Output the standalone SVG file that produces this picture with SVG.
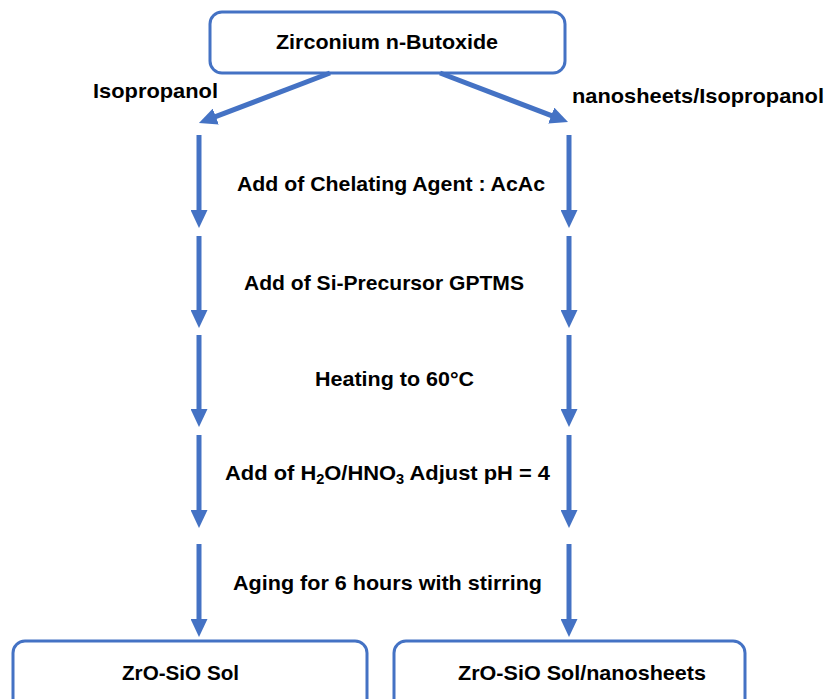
<svg xmlns="http://www.w3.org/2000/svg" width="829" height="699" viewBox="0 0 829 699">
<defs>
<style>
.box{fill:#fff;stroke:#4472C4;stroke-width:3}
.lbl{font-family:"Liberation Sans",Arial,sans-serif;font-weight:bold;font-size:21px;fill:#000}
.arr{stroke:#4472C4;stroke-width:5;fill:none;marker-end:url(#ah)}
</style>
<marker id="ah" markerUnits="userSpaceOnUse" markerWidth="18" markerHeight="17" refX="8" refY="8.5" orient="auto" viewBox="0 0 18 17">
<path d="M0,0 L18,8.5 L0,17 z" fill="#4472C4"/>
</marker>
</defs>
<rect width="829" height="699" fill="#fff"/>
<g id="node-zirconium">
<rect class="box" x="210" y="12" width="355" height="61" rx="12"/>
<text class="lbl" x="276" y="49" textLength="222" lengthAdjust="spacingAndGlyphs">Zirconium n-Butoxide</text>
</g>
<g id="node-sol">
<rect class="box" x="13" y="641" width="354" height="80" rx="12"/>
<text class="lbl" x="122" y="680" textLength="117" lengthAdjust="spacingAndGlyphs">ZrO-SiO Sol</text>
</g>
<g id="node-sol-nanosheets">
<rect class="box" x="394" y="641" width="351" height="80" rx="12"/>
<text class="lbl" x="458" y="680" textLength="248" lengthAdjust="spacingAndGlyphs">ZrO-SiO Sol/nanosheets</text>
</g>
<g id="connectors">
<line class="arr" x1="330" y1="73" x2="208.3" y2="119.4"/>
<line class="arr" x1="440" y1="73" x2="558.7" y2="118.4"/>
<line class="arr" x1="199" y1="135" x2="199" y2="218"/>
<line class="arr" x1="199" y1="236" x2="199" y2="318"/>
<line class="arr" x1="199" y1="335" x2="199" y2="417"/>
<line class="arr" x1="199" y1="435" x2="199" y2="518"/>
<line class="arr" x1="199" y1="544" x2="199" y2="627"/>
<line class="arr" x1="569" y1="135" x2="569" y2="218"/>
<line class="arr" x1="569" y1="236" x2="569" y2="318"/>
<line class="arr" x1="569" y1="335" x2="569" y2="417"/>
<line class="arr" x1="569" y1="435" x2="569" y2="518"/>
<line class="arr" x1="569" y1="544" x2="569" y2="627"/>
</g>
<g id="labels">
<text class="lbl" x="93" y="98" textLength="125" lengthAdjust="spacingAndGlyphs">Isopropanol</text>
<text class="lbl" x="572" y="103" textLength="252" lengthAdjust="spacingAndGlyphs">nanosheets/Isopropanol</text>
<text class="lbl" x="237" y="191" textLength="308" lengthAdjust="spacingAndGlyphs">Add of Chelating Agent : AcAc</text>
<text class="lbl" x="244" y="290" textLength="280" lengthAdjust="spacingAndGlyphs">Add of Si-Precursor GPTMS</text>
<text class="lbl" x="315" y="386" textLength="159" lengthAdjust="spacingAndGlyphs">Heating to 60°C</text>
<text class="lbl" x="225" y="480" textLength="325" lengthAdjust="spacingAndGlyphs">Add of H<tspan dy="4" font-size="14">2</tspan><tspan dy="-4">O/HNO</tspan><tspan dy="4" font-size="14">3</tspan><tspan dy="-4"> Adjust pH = 4</tspan></text>
<text class="lbl" x="233" y="590" textLength="309" lengthAdjust="spacingAndGlyphs">Aging for 6 hours with stirring</text>
</g>
</svg>
